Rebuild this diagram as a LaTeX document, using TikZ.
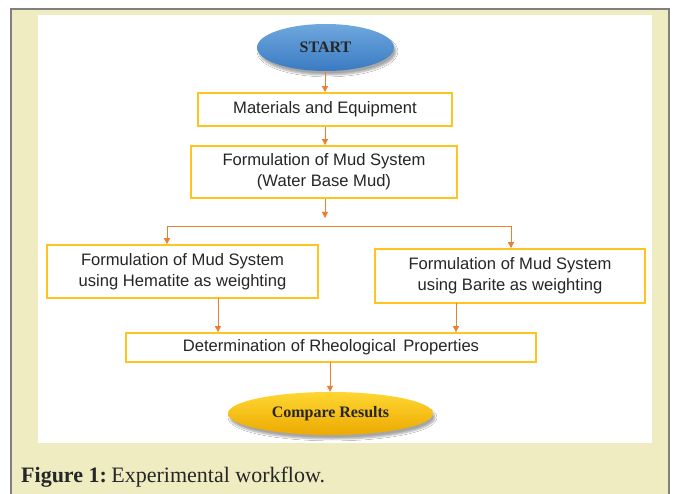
\documentclass[tikz,border=0pt]{standalone}
\usepackage{fontspec}
\setmainfont{Liberation Serif}
\newfontfamily\boxfont{Liberation Sans}
\usetikzlibrary{shapes.geometric,arrows.meta,calc,shadows.blur}

\definecolor{pagebeige}{RGB}{238,236,192}
\definecolor{framegray}{RGB}{128,128,128}
\definecolor{boxgold}{RGB}{255,196,30}
\definecolor{flow}{RGB}{237,125,49}
\definecolor{boxtext}{RGB}{38,38,38}
\definecolor{blueTop}{RGB}{110,168,222}
\definecolor{blueBot}{RGB}{58,122,194}
\definecolor{goldTop}{RGB}{255,214,50}
\definecolor{goldBot}{RGB}{236,170,0}

\tikzset{
  stepbox/.style={draw=boxgold, line width=1.8pt, fill=white, rectangle,
    inner sep=0pt, align=center, text=boxtext,
    font=\boxfont\fontsize{16.6}{21}\selectfont},
  terminal/.style={ellipse, inner sep=0pt, draw=none,
    font=\bfseries\fontsize{16}{19}\selectfont, text=black!85,
    blur shadow={shadow xshift=2pt, shadow yshift=-4pt,
      shadow blur steps=6, shadow opacity=35}},
  arr/.style={draw=flow, line width=0.9pt,
    -{Triangle[length=6pt,width=6pt]}},
  link/.style={draw=flow, line width=0.9pt},
}

\begin{document}
\begin{tikzpicture}[x=1pt,y=-1pt]
  \useasboundingbox (0,0) rectangle (673,494);

  % page frame and white drawing panel
  \fill[pagebeige] (11,9) rectangle (669,494);
  \draw[framegray, line width=1.3pt] (11,494) -- (11,9) -- (669,9) -- (669,494);
  \fill[white] (38,15) rectangle (652,443);

  % flow chart nodes
  \node[terminal, top color=blueTop, bottom color=blueBot,
        minimum width=137pt, minimum height=47pt] (start) at (325.5,47.5) {START};
  \node[stepbox, minimum width=254pt, minimum height=33pt] (mat) at (325,109.5)
    {Materials and Equipment};
  \node[stepbox, minimum width=266pt, minimum height=52pt] (form) at (324,172)
    {Formulation of Mud System\\(Water Base Mud)};
  \node[stepbox, minimum width=271pt, minimum height=53pt] (hem) at (182.5,271.5)
    {Formulation of Mud System\\using Hematite as weighting};
  \node[stepbox, minimum width=270pt, minimum height=54pt] (bar) at (510,276)
    {Formulation of Mud System\\using Barite as weighting};
  \node[stepbox, minimum width=410pt, minimum height=29pt] (det) at (331,347.5)
    {Determination of Rheological\, Properties};
  \node[terminal, top color=goldTop, bottom color=goldBot,
        minimum width=205pt, minimum height=43pt] (cmp) at (330.5,413.5)
    {Compare Results};

  % branch points
  \coordinate (split) at (325,218);
  \coordinate (bl) at (167,226);
  \coordinate (br) at (511,226);
  \coordinate (hemout) at (218,298);
  \coordinate (barout) at (456,303);
  \coordinate (detout) at (330,362);

  % connectors
  \draw[arr] (start.south -| mat.north) -- (mat.north);
  \draw[arr] (mat.south) -- (mat.south |- form.north);
  \draw[arr] (form.south -| split) -- (split);
  \draw[link] (bl) -- (br);
  \draw[arr] (bl) -- (bl |- hem.north);
  \draw[arr] (br) -- (br |- bar.north);
  \draw[arr] (hemout) -- (hemout |- det.north);
  \draw[arr] (barout) -- (barout |- det.north);
  \draw[arr] (detout) -- (detout |- cmp.north);

  % caption
  \node[anchor=base west, inner sep=0pt, text=black!85,
        font=\fontsize{22}{24}\selectfont] (cap) at (21,483)
    {\textbf{Figure 1:}\kern-1pt\ Experimental workflow.};
\end{tikzpicture}
\end{document}
